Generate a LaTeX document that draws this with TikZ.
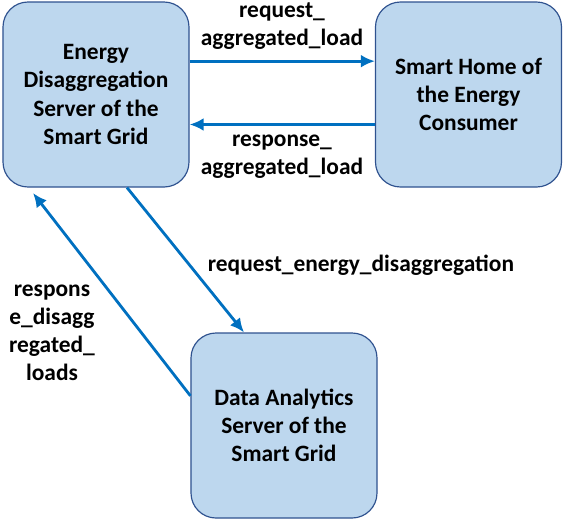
\documentclass[tikz,border=0pt]{standalone}
\usepackage{fontspec}
\setmainfont{Carlito}
\usetikzlibrary{arrows.meta, positioning}

\definecolor{boxfill}{RGB}{189,215,238}
\definecolor{boxline}{RGB}{47,82,143}
\definecolor{flow}{RGB}{0,112,192}

\begin{document}
\begin{tikzpicture}[x=0.03cm, y=-0.03cm,
			>={Latex[length=12pt,width=11pt]},   %Pfeilspitzen
			font=\fontsize{20}{24}\selectfont\bfseries,
			box/.style={draw=boxline, fill=boxfill, line width=1pt, rounded corners=0.75cm,
				minimum width=5.58cm, minimum height=5.55cm, align=center, inner sep=2pt},
			flowline/.style={->, draw=flow, line width=2.4pt},
			msg/.style={align=center, inner sep=1pt}]
			%Bildbereich
			\useasboundingbox (0,0) rectangle (564,520);
			%Kaesten
			\node[box] (eds) at (96,94.5) {Energy\\Disaggregation\\Server of the\\Smart Grid};
			\node[box] (shc) at (468.5,94.5) {Smart Home of\\the Energy\\Consumer};
			\node[box] (das) at (284,425.5) {Data Analytics\\Server of the\\Smart Grid};
			%Pfeile
			\draw[flowline] ([yshift=1.0cm]eds.east) -- ([yshift=1.0cm]shc.west);
			\draw[flowline] ([yshift=-0.9cm]shc.west) -- ([yshift=-0.9cm]eds.east);
			\draw[flowline] ([xshift=0.93cm]eds.south) -- ([xshift=-1.2cm]das.north);
			\coordinate (edsin) at (33,193);
			\draw[flowline] ([yshift=0.89cm]das.west) -- (edsin);
			%Beschriftung
			\node[msg] (reqagg) at (282,26) {request\_\\aggregated\_load};
			\node[msg] (resagg) at (282,157) {response\_\\aggregated\_load};
			\node[msg] (reqdis) at (361,265) {request\_energy\_disaggregation};
			\node[msg] (resdis) at (52,333) {respons\\e\_disagg\\regated\_\\loads};
		\end{tikzpicture}
\end{document}
